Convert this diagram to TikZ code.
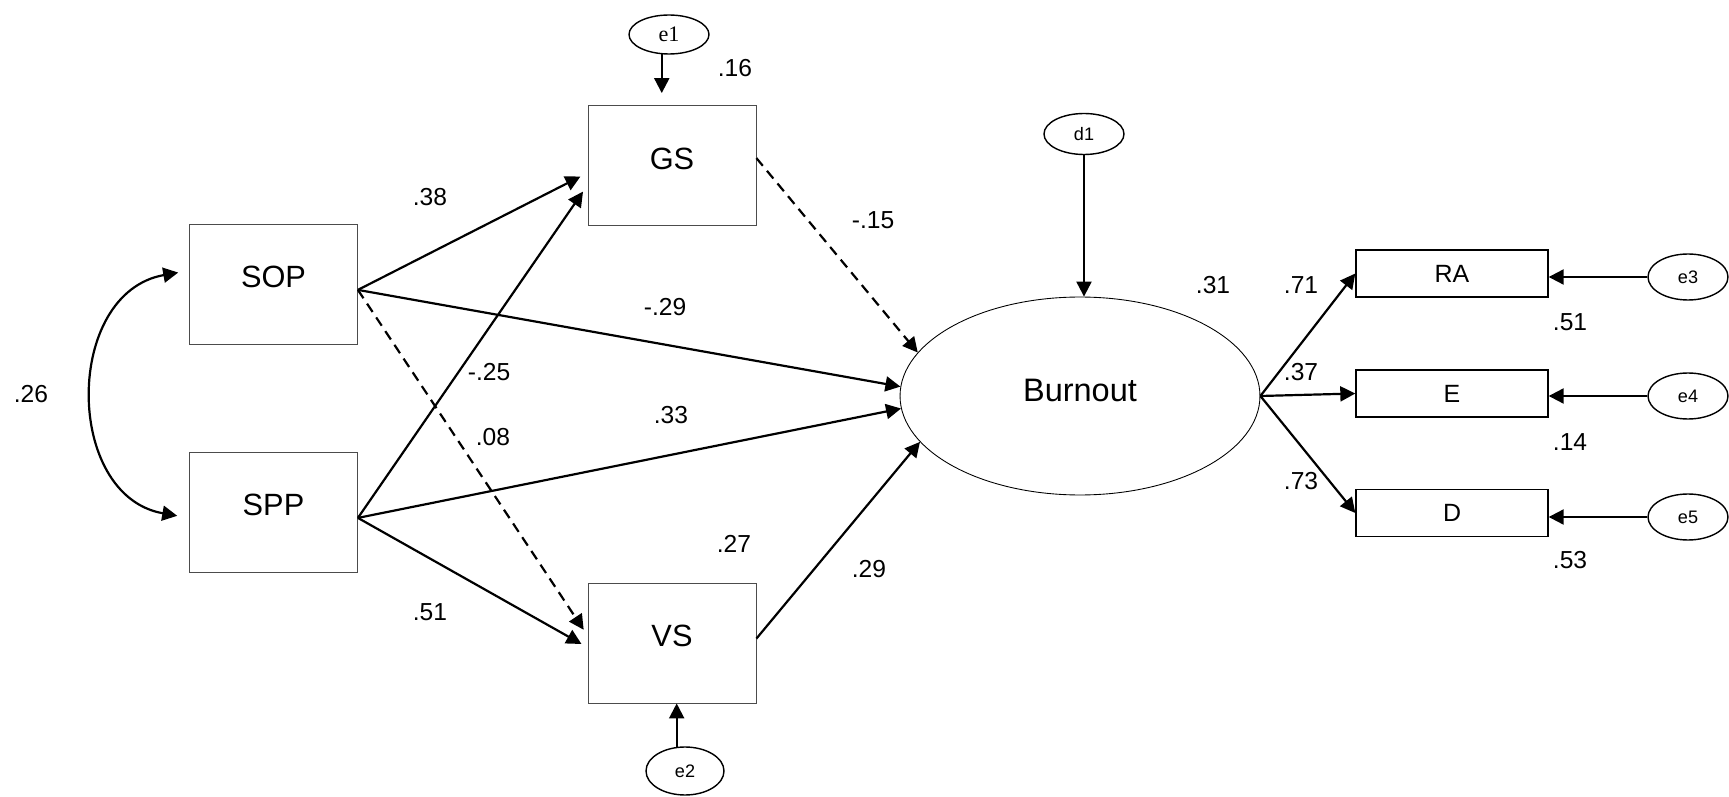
\documentclass[tikz,border=0pt]{standalone}
\usepackage{fontspec}
\setmainfont{Liberation Sans}
\newfontfamily\timesface{Liberation Serif}
\usetikzlibrary{arrows.meta,shapes.geometric}
\tikzset{
  var/.style={draw=black!70, line width=0.5pt, minimum width=3.36cm, minimum height=2.4cm, text depth=8pt, font=\fontsize{17.5}{20}\selectfont},
  ind/.style={draw, line width=0.8pt, minimum width=3.84cm, minimum height=0.94cm, font=\fontsize{14.2}{17}\selectfont},
  err/.style={ellipse, draw, line width=0.8pt, minimum width=1.6cm, minimum height=0.92cm, inner sep=0pt, font=\fontsize{10.3}{12}\selectfont},
  latent/.style={ellipse, draw, line width=0.5pt, minimum width=7.2cm, minimum height=3.96cm, text depth=7pt, font=\fontsize{18.5}{21}\selectfont},
  coef/.style={inner sep=0pt, font=\fontsize{14}{16}\selectfont},
  effect/.style={line width=1.25pt, -{Triangle[length=0.3cm,width=0.3cm]}},
  weakeffect/.style={effect, dash pattern=on 0.2cm off 0.13cm},
}
\begin{document}
\begin{tikzpicture}[x=0.02cm, y=-0.02cm]
\useasboundingbox (0,0) rectangle (1729,797);
\node[var] (SOP) at (273.5,284) {SOP};
\node[var] (SPP) at (273.5,512) {SPP};
\node[var] (GS) at (672,165.5) {GS};
\node[var] (VS) at (672,643) {VS};
\node[latent] (Burnout) at (1080,396) {Burnout};
\node[ind] (RA) at (1452,273.5) {RA};
\node[ind] (E) at (1452,393.5) {E};
\node[ind] (D) at (1452,513) {D};
\node[err, minimum height=0.78cm, font=\timesface\fontsize{12.6}{14}\selectfont] (e1) at (669,34.5) {e1};
\node[err, minimum width=1.56cm, minimum height=0.96cm] (e2) at (685,771) {e2};
\node[err, minimum height=0.82cm] (d1) at (1084,134) {d1};
\node[err] (e3) at (1688,277) {e3};
\node[err] (e4) at (1688,396) {e4};
\node[err] (e5) at (1688,517) {e5};

\draw[effect, {Triangle[length=0.3cm,width=0.3cm]}-{Triangle[length=0.3cm,width=0.3cm]}, shorten <=0.22cm, shorten >=0.24cm]
  (SOP.171) to[out=190, in=170, looseness=1.32] (SPP.184);
\draw[effect, shorten >=0.16cm] (SOP.356) -- (GS.185);
\draw[effect, shorten >=0.16cm] (SPP.356) -- (GS.193);
\draw[effect] (SOP.356) -- (Burnout.177);
\draw[effect] (SPP.356) -- (Burnout.184);
\draw[weakeffect, shorten >=0.14cm] (SOP.356) -- (VS.175);
\draw[effect, shorten >=0.14cm] (SPP.356) -- (VS.183);
\draw[weakeffect] (GS.5) -- (Burnout.165);
\draw[effect] (VS.3) -- (Burnout.196);
\draw[effect, shorten >=0.24cm] (e1.250) -- (e1.250 |- GS.north);
\draw[effect] (e2.109) -- (e2.109 |- VS.south);
\draw[effect] (d1.south) -- (d1.south |- Burnout.north);
\draw[effect] (Burnout.east) -- (RA.west);
\draw[effect] (Burnout.east) -- (E.west);
\draw[effect] (Burnout.east) -- (D.west);
\draw[effect] (e3.west) -- (e3.west -| RA.east);
\draw[effect] (e4.west) -- (e4.west -| E.east);
\draw[effect] (e5.west) -- (e5.west -| D.east);

\node[coef] (c26) at (31,394) {.26};
\node[coef] (c38) at (430,197) {.38};
\node[coef] (c16) at (735,68) {.16};
\node[coef] (c15) at (873,220) {-.15};
\node[coef] (c29a) at (665,307) {-.29};
\node[coef] (c25) at (489,372) {-.25};
\node[coef] (c08) at (493,437) {.08};
\node[coef] (c33) at (671,415) {.33};
\node[coef] (c51) at (430,612) {.51};
\node[coef] (c27) at (734,544) {.27};
\node[coef] (c29b) at (869,569) {.29};
\node[coef] (c31) at (1213,285) {.31};
\node[coef] (c71) at (1301,285) {.71};
\node[coef] (c37) at (1301,372) {.37};
\node[coef] (c73) at (1301,481) {.73};
\node[coef] (r51) at (1570,322) {.51};
\node[coef] (r14) at (1570,442) {.14};
\node[coef] (r53) at (1570,560) {.53};
\end{tikzpicture}
\end{document}
